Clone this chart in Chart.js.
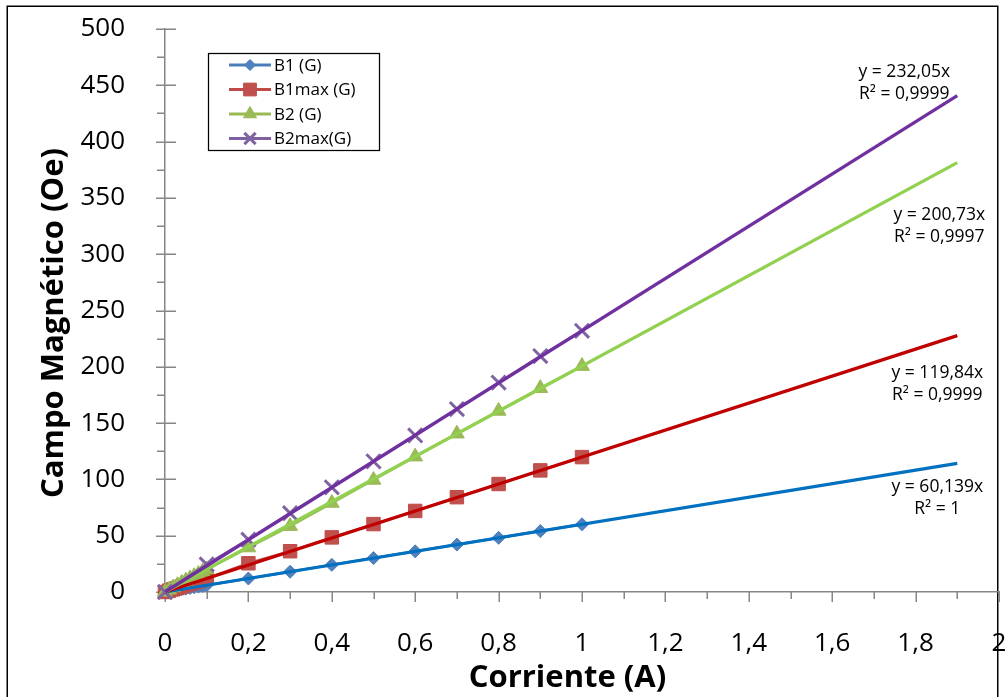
<!DOCTYPE html>
<html>
<head>
<meta charset="utf-8">
<title>Campo Magnético vs Corriente</title>
<script src="https://cdn.jsdelivr.net/npm/chart.js@4/dist/chart.umd.min.js"></script>
<style>
  html, body { margin: 0; padding: 0; background: #ffffff; }
  #wrap { width: 1006px; height: 697px; position: relative; }
</style>
</head>
<body>
<div id="wrap"><canvas id="chart" width="1006" height="697"></canvas></div>
<script>
// ---- measured data ----
const currentA = [0, 0.01, 0.02, 0.03, 0.04, 0.05, 0.06, 0.07, 0.08, 0.09,
                  0.1, 0.2, 0.3, 0.4, 0.5, 0.6, 0.7, 0.8, 0.9, 1.0];
const currentCoarseA = [0, 0.1, 0.2, 0.3, 0.4, 0.5, 0.6, 0.7, 0.8, 0.9, 1.0];
const b1G    = [0, 0.6, 1.2, 1.8, 2.4, 3.0, 3.6, 4.2, 4.8, 5.4,
                6.0, 12.0, 18.0, 24.1, 30.1, 36.1, 42.1, 48.1, 54.1, 60.1];
const b1maxG = [0, 1.2, 2.4, 3.6, 4.8, 6.0, 7.2, 8.4, 9.6, 10.8,
                12.0, 25.5, 36.2, 48.5, 60.3, 72.0, 84.2, 95.9, 108.0, 119.8];
const b2G    = [0, 2.0, 4.0, 6.0, 8.0, 10.0, 12.0, 14.0, 16.0, 18.0,
                20.0, 39.5, 58.5, 79.0, 99.5, 120.2, 140.6, 160.8, 181.0, 200.6];
const b2maxG = [0, 24.5, 46.5, 70.0, 93.0, 116.0, 139.0, 162.5, 186.0, 209.5, 232.0];
const seriesNames = ['B1 (G)', 'B1max (G)', 'B2 (G)', 'B2max(G)'];

// linear fits through the origin (y = m·x)
const trendSlopes = [60.139, 119.84, 200.73, 232.05];
const trendR2 = ['1', '0,9999', '0,9997', '0,9999'];
const trendRangeA = [0, 1.9];

// axis tick labels
const xTickLabels = ['0', '0,2', '0,4', '0,6', '0,8', '1', '1,2', '1,4', '1,6', '1,8', '2'];
const yTickLabels = ['0', '50', '100', '150', '200', '250', '300', '350', '400', '450', '500'];

// ---- styling ----
const seriesStyle = [
  { line: '#4A7EBB', fill: '#4F81BD', shape: 'rectRot',  radius: 6.5, legendRadius: 5.5, bw: 1 },
  { line: '#BE4B48', fill: '#C0504D', shape: 'rect',     radius: 9.5, legendRadius: 9,   bw: 1 },
  { line: '#98B954', fill: '#9BBB59', shape: 'triangle', radius: 8.5, legendRadius: 7.5, bw: 1 },
  { line: '#7D60A0', fill: '#8064A2', shape: 'crossRot', radius: 10,  legendRadius: 8,   bw: 3 }
];
const trendColors = ['#0070C0', '#C00000', '#92D050', '#7030A0'];
const FONT = '"Open Sans", "DejaVu Sans", sans-serif';
const AXIS_GRAY = '#868686';

const seriesX = [currentA, currentA, currentA, currentCoarseA];
const seriesValues = [b1G, b1maxG, b2G, b2maxG];

const datasets = [];
seriesValues.forEach((vals, i) => {
  const st = seriesStyle[i];
  datasets.push({
    label: seriesNames[i],
    data: seriesX[i].map((a, k) => ({ x: a, y: vals[k] })),
    showLine: true,
    borderColor: st.line,
    borderWidth: 2.5,
    pointStyle: st.shape,
    pointRadius: st.radius,
    pointHoverRadius: st.radius,
    pointBackgroundColor: st.fill,
    pointBorderColor: st.shape === 'crossRot' ? st.fill : st.line,
    pointBorderWidth: st.bw,
    order: 10 - i,
    clip: false,
    isSeries: true
  });
});
trendSlopes.forEach((m, i) => {
  datasets.push({
    label: 'trend ' + seriesNames[i],
    data: trendRangeA.map(a => ({ x: a, y: m * a })),
    showLine: true,
    borderColor: trendColors[i],
    borderWidth: 3.25,
    pointRadius: 0,
    pointHoverRadius: 0,
    order: 4 - i,
    clip: false,
    isSeries: false
  });
});

// white background and the outer frame of the chart
const framePlugin = {
  id: 'frame',
  beforeDraw(chart) {
    const ctx = chart.ctx;
    ctx.save();
    ctx.fillStyle = '#ffffff';
    ctx.fillRect(0, 0, chart.width, chart.height);
    ctx.strokeStyle = '#000000';
    ctx.lineWidth = 1.5;
    ctx.strokeRect(7.25, 6.25, 990.5, 720);
    ctx.restore();
  }
};

// tick marks: major ticks cross the y axis, x ticks point outward, minor ticks halfway
const tickMarkPlugin = {
  id: 'tickMarks',
  beforeDatasetsDraw(chart) {
    const ctx = chart.ctx, xs = chart.scales.x, ys = chart.scales.y;
    ctx.save();
    ctx.strokeStyle = AXIS_GRAY;
    ctx.lineWidth = 1.5;
    ctx.beginPath();
    const xv = xs.ticks.map(t => t.value);
    xv.forEach((v, i) => {
      const px = Math.round(xs.getPixelForValue(v)) + 0.25;
      ctx.moveTo(px, ys.bottom); ctx.lineTo(px, ys.bottom + 10);
      if (i < xv.length - 1) {
        const pm = Math.round(xs.getPixelForValue((v + xv[i + 1]) / 2)) + 0.25;
        ctx.moveTo(pm, ys.bottom); ctx.lineTo(pm, ys.bottom + 7);
      }
    });
    const yv = ys.ticks.map(t => t.value);
    const ax = xs.left;
    yv.forEach((v, i) => {
      const py = Math.round(ys.getPixelForValue(v)) + 0.25;
      ctx.moveTo(ax - 9, py); ctx.lineTo(ax + 11, py);
      if (i < yv.length - 1) {
        const pm = Math.round(ys.getPixelForValue((v + yv[i + 1]) / 2)) + 0.25;
        ctx.moveTo(ax - 8, pm); ctx.lineTo(ax, pm);
      }
    });
    ctx.stroke();
    ctx.restore();
  }
};

function drawMarker(ctx, shape, x, y, r, fill, stroke, bw) {
  ctx.save();
  ctx.fillStyle = fill;
  ctx.strokeStyle = stroke;
  ctx.lineWidth = bw;
  ctx.beginPath();
  if (shape === 'rectRot') {
    ctx.moveTo(x, y - r); ctx.lineTo(x + r, y); ctx.lineTo(x, y + r); ctx.lineTo(x - r, y);
    ctx.closePath(); ctx.fill(); ctx.stroke();
  } else if (shape === 'rect') {
    const s = r * Math.SQRT1_2;
    ctx.rect(x - s, y - s, 2 * s, 2 * s); ctx.fill(); ctx.stroke();
  } else if (shape === 'triangle') {
    let a = 0;
    ctx.moveTo(x + Math.sin(a) * r, y - Math.cos(a) * r);
    a += 2 * Math.PI / 3; ctx.lineTo(x + Math.sin(a) * r, y - Math.cos(a) * r);
    a += 2 * Math.PI / 3; ctx.lineTo(x + Math.sin(a) * r, y - Math.cos(a) * r);
    ctx.closePath(); ctx.fill(); ctx.stroke();
  } else if (shape === 'crossRot') {
    const d = r * Math.SQRT1_2;
    ctx.moveTo(x - d, y - d); ctx.lineTo(x + d, y + d);
    ctx.moveTo(x + d, y - d); ctx.lineTo(x - d, y + d);
    ctx.stroke();
  }
  ctx.restore();
}

// boxed legend with a line sample and marker per measured series
const legendPlugin = {
  id: 'boxLegend',
  afterDraw(chart, args, opts) {
    const ctx = chart.ctx;
    ctx.save();
    ctx.strokeStyle = '#000000';
    ctx.lineWidth = 1.25;
    ctx.strokeRect(opts.left, opts.top, opts.width, opts.height);
    ctx.font = opts.fontSize + 'px ' + FONT;
    ctx.textBaseline = 'middle';
    ctx.textAlign = 'left';
    const items = chart.data.datasets.filter(d => d.isSeries);
    items.forEach((d, i) => {
      const st = seriesStyle[i];
      const y = opts.firstRow + i * opts.rowGap;
      ctx.strokeStyle = st.line;
      ctx.lineWidth = 3;
      ctx.beginPath();
      ctx.moveTo(opts.sampleX0, y); ctx.lineTo(opts.sampleX1, y);
      ctx.stroke();
      drawMarker(ctx, st.shape, (opts.sampleX0 + opts.sampleX1) / 2, y, st.legendRadius,
                 st.fill, st.shape === 'crossRot' ? st.fill : st.line, st.shape === 'crossRot' ? 3 : 1);
      ctx.fillStyle = '#000000';
      ctx.fillText(d.label, opts.textX, y + 1);
    });
    ctx.restore();
  }
};

function fmtComma(v) { return String(v).replace('.', ','); }

// equation and R² text next to each fitted line
const trendLabelPlugin = {
  id: 'trendLabels',
  afterDatasetsDraw(chart, args, opts) {
    const ctx = chart.ctx, xs = chart.scales.x, ys = chart.scales.y;
    ctx.save();
    ctx.font = opts.fontSize + 'px ' + FONT;
    ctx.fillStyle = '#000000';
    ctx.textAlign = 'center';
    ctx.textBaseline = 'middle';
    trendSlopes.forEach((m, i) => {
      const ex = xs.getPixelForValue(trendRangeA[1]);
      const ey = ys.getPixelForValue(m * trendRangeA[1]);
      const [dx, dy] = opts.offsets[i];
      ctx.fillText('y = ' + fmtComma(m) + 'x', ex + dx, ey + dy);
      ctx.fillText('R\u00B2 = ' + trendR2[i], ex + dx, ey + dy + opts.lineGap);
    });
    ctx.restore();
  }
};

// bold axis titles
const axisTitlePlugin = {
  id: 'axisTitles',
  afterDraw(chart, args, opts) {
    const ctx = chart.ctx, xs = chart.scales.x, ys = chart.scales.y;
    ctx.save();
    ctx.fillStyle = '#000000';
    ctx.font = 'bold ' + opts.fontSize + 'px ' + FONT;
    ctx.textAlign = 'center';
    ctx.textBaseline = 'alphabetic';
    ctx.fillText(xs.options.title.text, opts.xTitle.x, opts.xTitle.baseline);
    ctx.translate(opts.yTitle.baseline, opts.yTitle.y);
    ctx.rotate(-Math.PI / 2);
    ctx.fillText(ys.options.title.text, 0, 0);
    ctx.restore();
  }
};

// keep the plot area fixed: no label-driven padding on the axes
function zeroPadX(s) { s.paddingLeft = 0; s.paddingRight = 0; }
function zeroPadY(s) { s.paddingTop = 0; s.paddingBottom = 0; }

new Chart(document.getElementById('chart'), {
  type: 'scatter',
  data: { datasets },
  options: {
    responsive: false,
    animation: false,
    devicePixelRatio: 1,
    layout: { autoPadding: false, padding: { left: 0, right: 7, top: 29, bottom: 0 } },
    events: [],
    scales: {
      x: {
        type: 'linear',
        position: 'bottom',
        min: 0, max: 2,
        grid: { display: false },
        border: { display: true, color: AXIS_GRAY, width: 1.5 },
        title: { display: false, text: 'Corriente (A)' },
        ticks: {
          stepSize: 0.2,
          padding: 28,
          color: '#000000',
          font: { family: FONT, size: 26 },
          maxRotation: 0,
          autoSkip: false,
          callback: (v, i) => xTickLabels[i]
        },
        afterFit(s) { s.height = 105; zeroPadX(s); },
        afterUpdate(s) { zeroPadX(s); }
      },
      y: {
        type: 'linear',
        min: 0, max: 500,
        grid: { display: false },
        border: { display: true, color: AXIS_GRAY, width: 1.5 },
        title: { display: false, text: 'Campo Magnético (Oe)' },
        ticks: {
          stepSize: 50,
          padding: 32,
          color: '#000000',
          font: { family: FONT, size: 26 },
          autoSkip: false,
          callback: (v, i) => yTickLabels[i]
        },
        afterFit(s) { s.width = 165; zeroPadY(s); },
        afterUpdate(s) { zeroPadY(s); }
      }
    },
    plugins: {
      legend: { display: false },
      tooltip: { enabled: false },
      boxLegend: {
        left: 208.5, top: 53.5, width: 171, height: 97,
        firstRow: 65, rowGap: 24.5, sampleX0: 229, sampleX1: 271, textX: 274, fontSize: 17
      },
      trendLabels: {
        fontSize: 17.5, lineGap: 22,
        offsets: [[-20, 24], [-20, 37], [-18, 52], [-53, -24]]
      },
      axisTitles: {
        fontSize: 31,
        xTitle: { x: 567.5, baseline: 687 },
        yTitle: { y: 323, baseline: 62.7 }
      }
    }
  },
  plugins: [framePlugin, tickMarkPlugin, legendPlugin, trendLabelPlugin, axisTitlePlugin]
});
</script>
</body>
</html>
